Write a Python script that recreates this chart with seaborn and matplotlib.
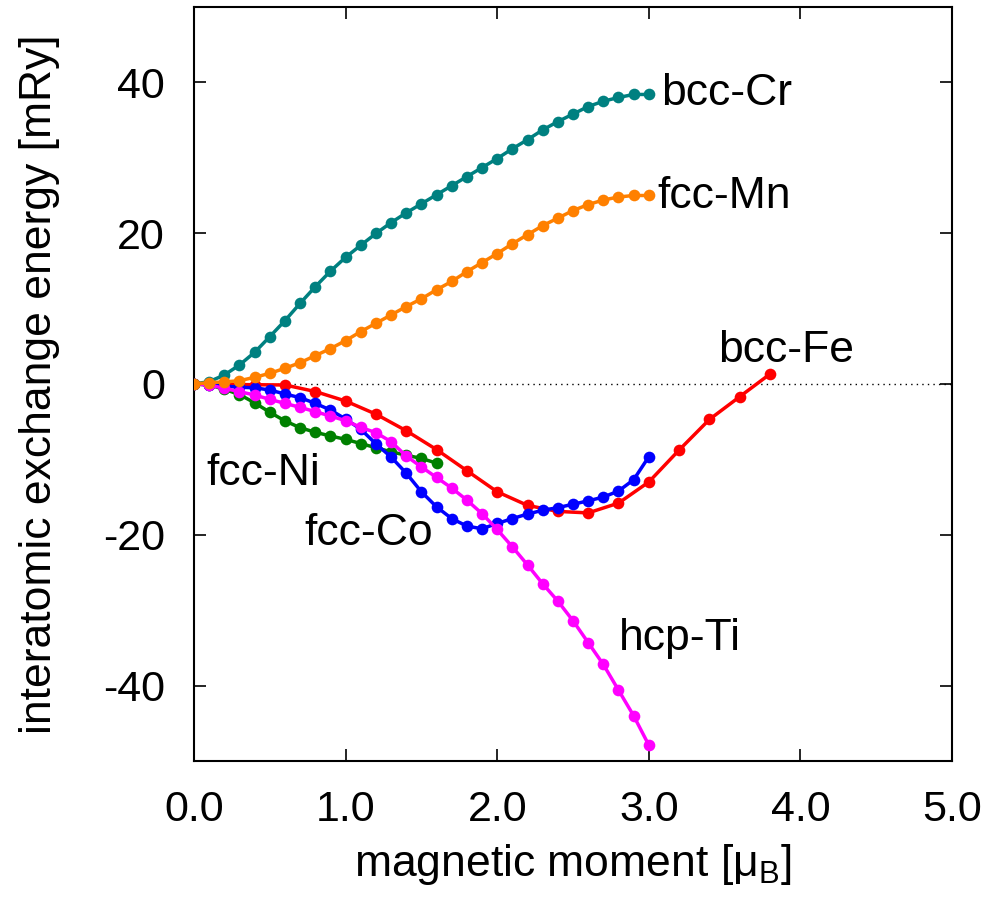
import numpy as np
import pandas as pd
import matplotlib
matplotlib.use("Agg")
import matplotlib.pyplot as plt
import seaborn as sns

# magnetic moment grids [mu_B]
m_fine = [round(0.1 * i, 1) for i in range(31)]
m_ni = [round(0.1 * i, 1) for i in range(17)]
m_fe = [round(0.2 * i, 1) for i in range(20)]

# interatomic exchange energy [mRy]
e_cr = [0.0, 0.31, 1.19, 2.52, 4.2, 6.28, 8.4, 10.7, 12.9, 14.96, 16.8,
        18.4, 19.96, 21.4, 22.7, 23.9, 25.1, 26.3, 27.5, 28.7, 29.9,
        31.2, 32.4, 33.7, 34.8, 35.8, 36.8, 37.5, 38.0, 38.4, 38.4]
e_mn = [0.0, 0.18, 0.27, 0.44, 0.88, 1.42, 2.08, 2.83, 3.76, 4.69, 5.75,
        6.95, 8.05, 9.16, 10.27, 11.3, 12.5, 13.6, 14.9, 16.1, 17.3,
        18.6, 19.8, 21.0, 22.0, 23.0, 23.8, 24.4, 24.8, 25.0, 25.0]
e_ni = [0.0, -0.13, -0.7, -1.4, -2.5, -3.75, -4.9, -5.8, -6.4, -6.9, -7.34,
        -7.9, -8.45, -9.0, -9.45, -9.87, -10.5]
e_co = [0.0, -0.09, -0.27, -0.44, -0.5, -0.8, -1.33, -1.81, -2.57, -3.45,
        -4.65, -6.0, -7.95, -9.68, -11.83, -14.3, -16.3, -17.85, -18.85,
        -19.2, -18.5, -17.85, -17.25, -16.75, -16.4, -15.95, -15.5, -15.0,
        -14.2, -12.7, -9.65]
e_fe = [0.0, -0.05, -0.1, -0.13, -1.0, -2.26, -4.0, -6.2, -8.7, -11.5,
        -14.3, -16.1, -16.9, -17.1, -15.8, -13.0, -8.76, -4.7, -1.68, 1.33]
e_ti = [0.0, -0.13, -0.58, -1.02, -1.46, -2.04, -2.57, -3.1, -3.67, -4.25,
        -4.87, -5.75, -6.46, -7.65, -9.56, -11.0, -12.4, -13.8, -15.4,
        -17.2, -19.3, -21.6, -24.0, -26.5, -28.8, -31.4, -34.3, -37.2,
        -40.6, -44.0, -47.9]

# drawing order: first entry at the bottom
series = [
    ("fcc-Ni", m_ni, e_ni, "#008000"),
    ("bcc-Fe", m_fe, e_fe, "#ff0000"),
    ("fcc-Co", m_fine, e_co, "#0000ff"),
    ("hcp-Ti", m_fine, e_ti, "#ff00ff"),
    ("bcc-Cr", m_fine, e_cr, "#008080"),
    ("fcc-Mn", m_fine, e_mn, "#ff8000"),
]

# curve labels, anchored at the left end of their baseline (data coordinates)
label_names = ["bcc-Cr", "fcc-Mn", "bcc-Fe", "fcc-Ni", "fcc-Co", "hcp-Ti"]
label_x = [3.08, 3.055, 3.46, 0.08, 0.725, 2.80]
label_y = [37.0, 23.3, 2.96, -13.4, -21.35, -35.3]

sns.set_theme(style="ticks")
plt.rcParams["font.family"] = ["Liberation Sans", "DejaVu Sans"]
plt.rcParams["mathtext.fontset"] = "custom"
plt.rcParams["mathtext.rm"] = "Liberation Sans"

fig = plt.figure(figsize=(10.0, 8.98), dpi=100)
ax = fig.add_axes([0.194, 0.1526, 0.758, 0.8396])

ax.axhline(0, color="black", linestyle=(0, (1, 3)), linewidth=1.0, zorder=1)

for i, (name, xs, ys, col) in enumerate(series):
    df = pd.DataFrame({"m": xs, "E": ys})
    sns.lineplot(data=df, x="m", y="E", ax=ax, color=col, linewidth=2.5,
                 marker="o", markersize=8.4, markeredgewidth=0,
                 sort=False, estimator=None, zorder=2 + i)

for name, lx, ly in zip(label_names, label_x, label_y):
    ax.text(lx, ly, name, fontsize=32, ha="left", va="baseline",
            color="black")

ax.set_xlim(0, 5)
ax.set_ylim(-50, 50)
ax.set_xticks([0, 1, 2, 3, 4, 5])
ax.set_xticklabels(["0.0", "1.0", "2.0", "3.0", "4.0", "5.0"])
ax.set_yticks([-40, -20, 0, 20, 40])
ax.set_yticklabels(["-40", "-20", "0", "20", "40"])
ax.tick_params(axis="both", direction="in", length=8.6, width=1.2,
               top=True, right=True, labelsize=31, colors="black")
ax.tick_params(axis="x", pad=21)
ax.tick_params(axis="y", pad=21)
for sp in ax.spines.values():
    sp.set_linewidth(1.5)
    sp.set_color("black")

ax.set_xlabel("magnetic moment [μ$_\\mathrm{B}$]", fontsize=32, color="black")
ax.set_ylabel("interatomic exchange energy [mRy]", fontsize=32, color="black")
ax.xaxis.set_label_coords(0.5, -0.108)
ax.yaxis.set_label_coords(-0.177, 0.5)

fig.savefig("out.png", dpi=100)
